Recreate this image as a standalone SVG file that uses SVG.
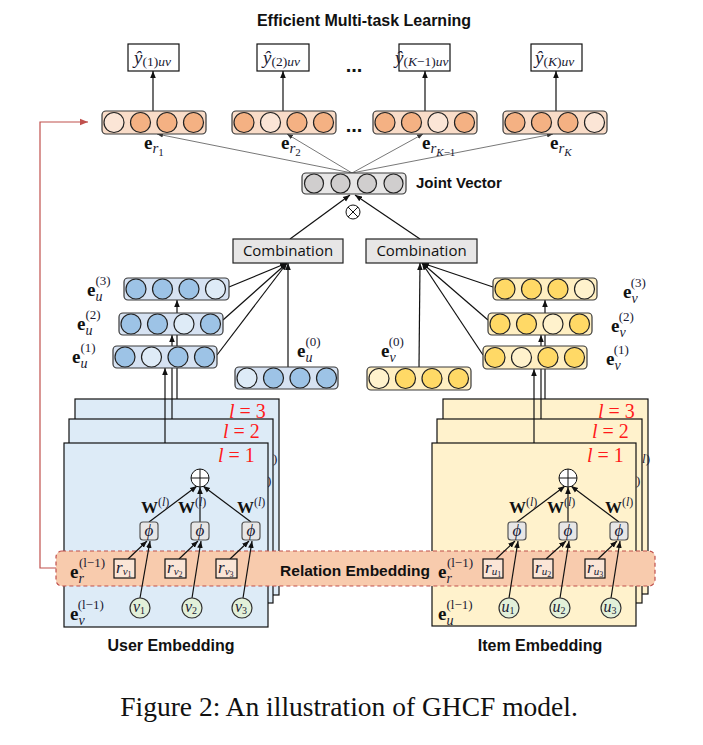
<svg xmlns="http://www.w3.org/2000/svg" width="703" height="745" viewBox="0 0 703 745">
<style>
.bt{font-family:"Liberation Sans",Arial,sans-serif;font-weight:bold;fill:#111}
.cb{font-family:"Open Sans","Liberation Sans",sans-serif;font-size:15px;fill:#111;text-anchor:middle}
.m{font-family:"Liberation Serif","DejaVu Serif",serif;fill:#1a1a33}
.eb{font-weight:bold;font-size:19px;fill:#111}
.it{font-style:italic}
.sb{font-size:13px}
.sub{font-style:italic;font-size:14px}
.red{fill:#ff1a1a;font-size:20px}
.vb{stroke:#3a3a3a;stroke-width:1.2}
.c{stroke:#222;stroke-width:1.2}
.oD{fill:#F4B183}.oL{fill:#FBE5D6}.ob{fill:#F9DCC8}
.bD{fill:#9DC3E6}.bL{fill:#DEEBF7}.bb{fill:#D6E2F2}
.yD{fill:#FFD966}.yL{fill:#FFF2CC}.yb{fill:#FFEFC2}
.gD{fill:#D0CECE}.gb{fill:#E7E6E6}
.a{stroke:#111;stroke-width:1.2;fill:none;marker-end:url(#ah)}
.ag{stroke:#555;stroke-width:0.8;fill:none;marker-end:url(#ahs)}
.lay{stroke:#111;stroke-width:1.2}
.box{fill:#fff;stroke:#111;stroke-width:1.2}
.phi{fill:#E7E6E6;stroke:#555;stroke-width:1.2}
.rb{fill:#FBE5D6;stroke:#111;stroke-width:1.2}
.node{fill:#E2F0D9;stroke:#333;stroke-width:1.2}
.yh{font-size:19px}
.ys{font-size:13.5px}
</style>
<defs>
<marker id="ah" viewBox="0 0 10 10" refX="10" refY="5" markerWidth="7" markerHeight="7" orient="auto" markerUnits="userSpaceOnUse"><path d="M0,1 L10,5 L0,9 z" fill="#111"/></marker>
<marker id="ahs" viewBox="0 0 10 10" refX="10" refY="5" markerWidth="6" markerHeight="6" orient="auto" markerUnits="userSpaceOnUse"><path d="M0,1 L10,5 L0,9 z" fill="#333"/></marker>
<marker id="ahr" viewBox="0 0 10 10" refX="10" refY="5" markerWidth="8" markerHeight="8" orient="auto" markerUnits="userSpaceOnUse"><path d="M0,1 L10,5 L0,9 z" fill="#C0504D"/></marker>
</defs>
<rect width="703" height="745" fill="#fff"/>

<!-- Layer stacks -->
<g id="user-layers">
<rect x="75" y="399" width="204" height="196" fill="#DDEBF7" class="lay"/>
<text x="273" y="463" class="m" font-size="13" fill="#1F3864">)</text>
<text x="229" y="418" class="m red"><tspan class="it">l</tspan> = 3</text>
<rect x="69" y="419" width="204" height="184" fill="#DDEBF7" class="lay"/>
<text x="267" y="485" class="m" font-size="13" fill="#1F3864">)</text>
<text x="223" y="438" class="m red"><tspan class="it">l</tspan> = 2</text>
<rect x="64" y="443" width="204" height="184" fill="#DDEBF7" class="lay"/>
<text x="218" y="462" class="m red"><tspan class="it">l</tspan> = 1</text>
</g>
<g id="item-layers">
<rect x="443" y="399" width="205" height="195" fill="#FFF2CC" class="lay"/>
<text x="642" y="463" class="m" font-size="13" fill="#1F3864"><tspan class="it">l</tspan>)</text>
<text x="598" y="418" class="m red"><tspan class="it">l</tspan> = 3</text>
<rect x="437" y="419" width="205" height="184" fill="#FFF2CC" class="lay"/>
<text x="636" y="485" class="m" font-size="13" fill="#1F3864">)</text>
<text x="592" y="438" class="m red"><tspan class="it">l</tspan> = 2</text>
<rect x="432" y="443" width="204" height="183" fill="#FFF2CC" class="lay"/>
<text x="587" y="462" class="m red"><tspan class="it">l</tspan> = 1</text>
</g>

<g id="relation-embedding">
<rect x="56" y="551" width="599" height="35" rx="6" fill="#F8CBAD" stroke="#C0504D" stroke-width="1.2" stroke-dasharray="4 3"/>
<text x="355" y="576" class="bt" font-size="15.5" text-anchor="middle">Relation Embedding</text>
</g>

<!-- Connectors -->
<g id="connectors">
<path d="M56,568 H40 V122 H88" stroke="#C0504D" stroke-width="1.2" fill="none" marker-end="url(#ahr)"/>
<line x1="153" y1="111" x2="153" y2="71" class="a"/>
<line x1="283" y1="111" x2="283" y2="71" class="a"/>
<line x1="425" y1="111" x2="425" y2="71" class="a"/>
<line x1="556" y1="111" x2="556" y2="71" class="a"/>
<line x1="352" y1="173" x2="157" y2="134" class="ag"/>
<line x1="352" y1="173" x2="287" y2="134" class="ag"/>
<line x1="352" y1="173" x2="423" y2="134" class="ag"/>
<line x1="352" y1="173" x2="553" y2="134" class="ag"/>
<line x1="290" y1="239" x2="350" y2="195" class="a"/>
<line x1="420" y1="239" x2="355" y2="195" class="a"/>
<line x1="229" y1="287" x2="287" y2="263" class="a"/>
<line x1="223" y1="320" x2="287" y2="263" class="a"/>
<line x1="217" y1="355" x2="287" y2="263" class="a"/>
<line x1="288" y1="367" x2="288" y2="263" class="a"/>
<line x1="493" y1="287" x2="422" y2="263" class="a"/>
<line x1="488" y1="320" x2="422" y2="263" class="a"/>
<line x1="483" y1="355" x2="422" y2="263" class="a"/>
<line x1="419" y1="367" x2="420" y2="263" class="a"/>
<line x1="165" y1="443" x2="165" y2="368" class="a"/>
<line x1="172" y1="419" x2="172" y2="335" class="a"/>
<line x1="177" y1="399" x2="177" y2="300" class="a"/>
<line x1="534" y1="443" x2="534" y2="369" class="a"/>
<line x1="541" y1="419" x2="541" y2="335" class="a"/>
<line x1="545" y1="399" x2="545" y2="300" class="a"/>
<line x1="149" y1="522" x2="197" y2="486" class="a"/>
<line x1="200" y1="522" x2="200" y2="487" class="a"/>
<line x1="251" y1="522" x2="203" y2="486" class="a"/>
<line x1="128" y1="559" x2="147" y2="541" class="a"/>
<line x1="179" y1="559" x2="198" y2="541" class="a"/>
<line x1="230" y1="559" x2="249" y2="541" class="a"/>
<line x1="140" y1="598" x2="150" y2="541" class="a"/>
<line x1="192" y1="598" x2="201" y2="541" class="a"/>
<line x1="243" y1="598" x2="252" y2="541" class="a"/>
<line x1="517" y1="522" x2="565" y2="486" class="a"/>
<line x1="568" y1="522" x2="568" y2="487" class="a" stroke="#666"/>
<line x1="619" y1="522" x2="571" y2="486" class="a"/>
<line x1="496" y1="559" x2="515" y2="541" class="a"/>
<line x1="546" y1="559" x2="566" y2="541" class="a"/>
<line x1="598" y1="559" x2="617" y2="541" class="a"/>
<line x1="509" y1="598" x2="518" y2="541" class="a"/>
<line x1="560" y1="598" x2="569" y2="541" class="a"/>
<line x1="611" y1="598" x2="620" y2="541" class="a"/>
</g>

<text x="364" y="26" class="bt" font-size="16" text-anchor="middle">Efficient Multi-task Learning</text>

<!-- Output boxes -->
<g id="y1"><rect x="128" y="44" width="51" height="27" class="box"/>
<text x="134" y="64" class="m yh"><tspan class="it">ŷ</tspan><tspan class="ys" dy="2">(1)</tspan><tspan class="ys it">uv</tspan></text></g>
<g id="y2"><rect x="257" y="44" width="52" height="27" class="box"/>
<text x="263" y="64" class="m yh"><tspan class="it">ŷ</tspan><tspan class="ys" dy="2">(2)</tspan><tspan class="ys it">uv</tspan></text></g>
<g id="yK1"><rect x="399" y="44" width="51" height="27" class="box"/>
<text x="395" y="64" class="m yh"><tspan class="it">ŷ</tspan><tspan class="ys" dy="2">(</tspan><tspan class="ys it">K</tspan><tspan class="ys">−1)</tspan><tspan class="ys it">uv</tspan></text></g>
<g id="yK"><rect x="531" y="44" width="51" height="27" class="box"/>
<text x="535" y="64" class="m yh"><tspan class="it">ŷ</tspan><tspan class="ys" dy="2">(</tspan><tspan class="ys it">K</tspan><tspan class="ys">)</tspan><tspan class="ys it">uv</tspan></text></g>
<text x="354" y="72" class="bt" font-size="20" text-anchor="middle">...</text>
<text x="354" y="132" class="bt" font-size="20" text-anchor="middle">...</text>

<!-- Relation vectors -->
<g id="er1"><rect x="102" y="111" width="104" height="23" rx="4" class="ob vb"/>
<circle cx="114" cy="122.5" r="10" class="oL c"/><circle cx="140.5" cy="122.5" r="10" class="oD c"/><circle cx="167" cy="122.5" r="10" class="oD c"/><circle cx="193.5" cy="122.5" r="10" class="oD c"/>
<text x="144" y="149" class="m"><tspan class="eb">e</tspan><tspan class="it" font-size="15" dy="4">r</tspan><tspan font-size="11" dy="3">1</tspan></text></g>
<g id="er2"><rect x="232" y="111" width="104" height="23" rx="4" class="ob vb"/>
<circle cx="244" cy="122.5" r="10" class="oD c"/><circle cx="270.5" cy="122.5" r="10" class="oL c"/><circle cx="297" cy="122.5" r="10" class="oD c"/><circle cx="323.5" cy="122.5" r="10" class="oD c"/>
<text x="281" y="149" class="m"><tspan class="eb">e</tspan><tspan class="it" font-size="15" dy="4">r</tspan><tspan font-size="11" dy="3">2</tspan></text></g>
<g id="erK1"><rect x="373" y="111" width="104" height="23" rx="4" class="ob vb"/>
<circle cx="385" cy="122.5" r="10" class="oD c"/><circle cx="411.5" cy="122.5" r="10" class="oD c"/><circle cx="438" cy="122.5" r="10" class="oL c"/><circle cx="464.5" cy="122.5" r="10" class="oD c"/>
<text x="422" y="149" class="m"><tspan class="eb">e</tspan><tspan class="it" font-size="15" dy="4">r</tspan><tspan font-size="11" dy="3" class="it">K</tspan><tspan font-size="11">−1</tspan></text></g>
<g id="erK"><rect x="503" y="111" width="104" height="23" rx="4" class="ob vb"/>
<circle cx="515" cy="122.5" r="10" class="oD c"/><circle cx="541.5" cy="122.5" r="10" class="oD c"/><circle cx="568" cy="122.5" r="10" class="oD c"/><circle cx="594.5" cy="122.5" r="10" class="oL c"/>
<text x="550" y="149" class="m"><tspan class="eb">e</tspan><tspan class="it" font-size="15" dy="4">r</tspan><tspan font-size="11" dy="3" class="it">K</tspan></text></g>

<!-- Joint vector -->
<g id="joint"><rect x="302" y="173" width="104" height="21" rx="4" class="gb vb"/>
<circle cx="314" cy="183.5" r="9.5" class="gD c"/><circle cx="340.5" cy="183.5" r="9.5" class="gD c"/><circle cx="367" cy="183.5" r="9.5" class="gD c"/><circle cx="393.5" cy="183.5" r="9.5" class="gD c"/>
<text x="416" y="188" class="bt" font-size="15">Joint Vector</text></g>
<g id="otimes"><circle cx="353" cy="212" r="7" fill="#fff" stroke="#111" stroke-width="1"/>
<path d="M348,207 L358,217 M358,207 L348,217" stroke="#111" stroke-width="1"/></g>

<g id="comb-u"><rect x="233" y="239" width="110" height="24" fill="#E7E6E6" stroke="#222" stroke-width="1.2"/><text x="288" y="256" class="cb">Combination</text></g>
<g id="comb-v"><rect x="366" y="239" width="111" height="24" fill="#E7E6E6" stroke="#222" stroke-width="1.2"/><text x="421.5" y="256" class="cb">Combination</text></g>

<!-- User vectors -->
<g id="eu3"><rect x="124" y="278" width="105" height="22" rx="4" class="bb vb"/>
<circle cx="136" cy="289" r="10" class="bD c"/><circle cx="162.5" cy="289" r="10" class="bD c"/><circle cx="189" cy="289" r="10" class="bD c"/><circle cx="215.5" cy="289" r="10" class="bL c"/>
<text x="87" y="296" class="m"><tspan class="eb">e</tspan><tspan class="sub" dy="5">u</tspan><tspan class="sb" dx="-7" dy="-16">(3)</tspan></text></g>
<g id="eu2"><rect x="119" y="313" width="104" height="22" rx="4" class="bb vb"/>
<circle cx="131" cy="324" r="10" class="bD c"/><circle cx="157.5" cy="324" r="10" class="bD c"/><circle cx="184" cy="324" r="10" class="bL c"/><circle cx="210.5" cy="324" r="10" class="bD c"/>
<text x="77" y="330" class="m"><tspan class="eb">e</tspan><tspan class="sub" dy="5">u</tspan><tspan class="sb" dx="-7" dy="-16">(2)</tspan></text></g>
<g id="eu1"><rect x="113" y="346" width="104" height="22" rx="4" class="bb vb"/>
<circle cx="125" cy="357" r="10" class="bD c"/><circle cx="151.5" cy="357" r="10" class="bL c"/><circle cx="178" cy="357" r="10" class="bD c"/><circle cx="204.5" cy="357" r="10" class="bD c"/>
<text x="72" y="363" class="m"><tspan class="eb">e</tspan><tspan class="sub" dy="5">u</tspan><tspan class="sb" dx="-7" dy="-16">(1)</tspan></text></g>
<g id="eu0"><rect x="235" y="367" width="103" height="22" rx="4" class="bb vb"/>
<circle cx="247" cy="378" r="10" class="bL c"/><circle cx="273.5" cy="378" r="10" class="bD c"/><circle cx="300" cy="378" r="10" class="bD c"/><circle cx="326.5" cy="378" r="10" class="bD c"/>
<text x="297" y="357" class="m"><tspan class="eb">e</tspan><tspan class="sub" dy="5">u</tspan><tspan class="sb" dx="-7" dy="-16">(0)</tspan></text></g>

<!-- Item vectors -->
<g id="ev3"><rect x="493" y="278" width="104" height="22" rx="4" class="yb vb"/>
<circle cx="505" cy="289" r="10" class="yD c"/><circle cx="531.5" cy="289" r="10" class="yD c"/><circle cx="558" cy="289" r="10" class="yD c"/><circle cx="584.5" cy="289" r="10" class="yL c"/>
<text x="623" y="298" class="m"><tspan class="eb">e</tspan><tspan class="sub" dy="5">v</tspan><tspan class="sb" dx="-7" dy="-16">(3)</tspan></text></g>
<g id="ev2"><rect x="488" y="313" width="104" height="22" rx="4" class="yb vb"/>
<circle cx="500" cy="324" r="10" class="yD c"/><circle cx="526.5" cy="324" r="10" class="yD c"/><circle cx="553" cy="324" r="10" class="yL c"/><circle cx="579.5" cy="324" r="10" class="yD c"/>
<text x="611" y="332" class="m"><tspan class="eb">e</tspan><tspan class="sub" dy="5">v</tspan><tspan class="sb" dx="-7" dy="-16">(2)</tspan></text></g>
<g id="ev1"><rect x="483" y="346" width="104" height="23" rx="4" class="yb vb"/>
<circle cx="495" cy="357.5" r="10" class="yD c"/><circle cx="521.5" cy="357.5" r="10" class="yL c"/><circle cx="548" cy="357.5" r="10" class="yD c"/><circle cx="574.5" cy="357.5" r="10" class="yD c"/>
<text x="606" y="365" class="m"><tspan class="eb">e</tspan><tspan class="sub" dy="5">v</tspan><tspan class="sb" dx="-7" dy="-16">(1)</tspan></text></g>
<g id="ev0"><rect x="367" y="367" width="104" height="23" rx="4" class="yb vb"/>
<circle cx="379" cy="378.5" r="10" class="yL c"/><circle cx="405.5" cy="378.5" r="10" class="yD c"/><circle cx="432" cy="378.5" r="10" class="yD c"/><circle cx="458.5" cy="378.5" r="10" class="yD c"/>
<text x="381" y="357" class="m"><tspan class="eb">e</tspan><tspan class="sub" dy="5">v</tspan><tspan class="sb" dx="-7" dy="-16">(0)</tspan></text></g>

<!-- User layer 1 content -->
<g id="u-oplus"><circle cx="200" cy="478" r="9" fill="#fff" stroke="#111" stroke-width="1"/><path d="M191,478 H209 M200,469 V487" stroke="#111" stroke-width="1"/></g>
<g id="u-W"><text x="141" y="513" class="m"><tspan font-weight="bold" font-size="17" fill="#111">W</tspan><tspan font-size="12" dy="-7">(</tspan><tspan font-size="12" class="it">l</tspan><tspan font-size="12">)</tspan></text>
<text x="178" y="513" class="m"><tspan font-weight="bold" font-size="17" fill="#111">W</tspan><tspan font-size="12" dy="-7">(</tspan><tspan font-size="12" class="it">l</tspan><tspan font-size="12">)</tspan></text>
<text x="237" y="513" class="m"><tspan font-weight="bold" font-size="17" fill="#111">W</tspan><tspan font-size="12" dy="-7">(</tspan><tspan font-size="12" class="it">l</tspan><tspan font-size="12">)</tspan></text></g>
<g id="u-phi1"><rect x="140" y="522" width="18" height="18" rx="3" class="phi"/><text x="149" y="536" class="m it" font-size="17" fill="#1F4E79" text-anchor="middle">ϕ</text></g>
<g id="u-phi2"><rect x="191" y="522" width="18" height="18" rx="3" class="phi"/><text x="200" y="536" class="m it" font-size="17" fill="#1F4E79" text-anchor="middle">ϕ</text></g>
<g id="u-phi3"><rect x="242" y="522" width="18" height="18" rx="3" class="phi"/><text x="251" y="536" class="m it" font-size="17" fill="#1F4E79" text-anchor="middle">ϕ</text></g>
<g id="u-r1"><rect x="114" y="559" width="21" height="19" class="rb"/><text x="116" y="573" class="m it" font-size="17">r<tspan font-size="11" dy="2">v</tspan><tspan font-size="8" dy="2" font-style="normal">1</tspan></text></g>
<g id="u-r2"><rect x="165" y="559" width="21" height="19" class="rb"/><text x="167" y="573" class="m it" font-size="17">r<tspan font-size="11" dy="2">v</tspan><tspan font-size="8" dy="2" font-style="normal">2</tspan></text></g>
<g id="u-r3"><rect x="216" y="559" width="21" height="19" class="rb"/><text x="218" y="573" class="m it" font-size="17">r<tspan font-size="11" dy="2">v</tspan><tspan font-size="8" dy="2" font-style="normal">3</tspan></text></g>
<g id="u-v1"><circle cx="140" cy="608" r="10" class="node"/><text x="139" y="612" class="m it" font-size="16" text-anchor="middle">v<tspan font-size="10" dy="2" font-style="normal">1</tspan></text></g>
<g id="u-v2"><circle cx="192" cy="608" r="10" class="node"/><text x="191" y="612" class="m it" font-size="16" text-anchor="middle">v<tspan font-size="10" dy="2" font-style="normal">2</tspan></text></g>
<g id="u-v3"><circle cx="242" cy="608" r="10" class="node"/><text x="241" y="612" class="m it" font-size="16" text-anchor="middle">v<tspan font-size="10" dy="2" font-style="normal">3</tspan></text></g>
<g id="u-labels"><text x="70" y="578" class="m"><tspan class="eb">e</tspan><tspan class="sub" dy="5">r</tspan><tspan class="sb" dx="-5" dy="-16">(l−1)</tspan></text>
<text x="70" y="620" class="m"><tspan class="eb">e</tspan><tspan class="sub" dy="5">v</tspan><tspan class="sb" dx="-7" dy="-16">(l−1)</tspan></text></g>

<!-- Item layer 1 content -->
<g id="i-oplus"><circle cx="568" cy="478" r="9" fill="#fff" stroke="#111" stroke-width="1"/><path d="M559,478 H577 M568,469 V487" stroke="#111" stroke-width="1"/></g>
<g id="i-W"><text x="509" y="513" class="m"><tspan font-weight="bold" font-size="17" fill="#111">W</tspan><tspan font-size="12" dy="-7">(</tspan><tspan font-size="12" class="it">l</tspan><tspan font-size="12">)</tspan></text>
<text x="547" y="513" class="m"><tspan font-weight="bold" font-size="17" fill="#111">W</tspan><tspan font-size="12" dy="-7">(</tspan><tspan font-size="12" class="it">l</tspan><tspan font-size="12">)</tspan></text>
<text x="605" y="513" class="m"><tspan font-weight="bold" font-size="17" fill="#111">W</tspan><tspan font-size="12" dy="-7">(</tspan><tspan font-size="12" class="it">l</tspan><tspan font-size="12">)</tspan></text></g>
<g id="i-phi1"><rect x="508" y="522" width="18" height="18" rx="3" class="phi"/><text x="517" y="536" class="m it" font-size="17" fill="#1F4E79" text-anchor="middle">ϕ</text></g>
<g id="i-phi2"><rect x="559" y="522" width="18" height="18" rx="3" class="phi"/><text x="568" y="536" class="m it" font-size="17" fill="#1F4E79" text-anchor="middle">ϕ</text></g>
<g id="i-phi3"><rect x="610" y="522" width="18" height="18" rx="3" class="phi"/><text x="619" y="536" class="m it" font-size="17" fill="#1F4E79" text-anchor="middle">ϕ</text></g>
<g id="i-r1"><rect x="483" y="559" width="20" height="19" class="rb"/><text x="485" y="573" class="m it" font-size="17">r<tspan font-size="11" dy="2">u</tspan><tspan font-size="8" dy="2" font-style="normal">1</tspan></text></g>
<g id="i-r2"><rect x="533" y="559" width="20" height="19" class="rb"/><text x="535" y="573" class="m it" font-size="17">r<tspan font-size="11" dy="2">u</tspan><tspan font-size="8" dy="2" font-style="normal">2</tspan></text></g>
<g id="i-r3"><rect x="585" y="559" width="20" height="19" class="rb"/><text x="587" y="573" class="m it" font-size="17">r<tspan font-size="11" dy="2">u</tspan><tspan font-size="8" dy="2" font-style="normal">3</tspan></text></g>
<g id="i-u1"><circle cx="509" cy="608" r="10" class="node"/><text x="508" y="612" class="m it" font-size="16" text-anchor="middle">u<tspan font-size="10" dy="2" font-style="normal">1</tspan></text></g>
<g id="i-u2"><circle cx="560" cy="608" r="10" class="node"/><text x="559" y="612" class="m it" font-size="16" text-anchor="middle">u<tspan font-size="10" dy="2" font-style="normal">2</tspan></text></g>
<g id="i-u3"><circle cx="611" cy="608" r="10" class="node"/><text x="610" y="612" class="m it" font-size="16" text-anchor="middle">u<tspan font-size="10" dy="2" font-style="normal">3</tspan></text></g>
<g id="i-labels"><text x="438" y="578" class="m"><tspan class="eb">e</tspan><tspan class="sub" dy="5">r</tspan><tspan class="sb" dx="-5" dy="-16">(l−1)</tspan></text>
<text x="438" y="620" class="m"><tspan class="eb">e</tspan><tspan class="sub" dy="5">u</tspan><tspan class="sb" dx="-7" dy="-16">(l−1)</tspan></text></g>

<text x="171" y="651" class="bt" font-size="16" text-anchor="middle">User Embedding</text>
<text x="540" y="651" class="bt" font-size="16" text-anchor="middle">Item Embedding</text>
<text x="349" y="716" font-family="Liberation Serif, serif" font-size="27.5" fill="#111" text-anchor="middle">Figure 2: An illustration of GHCF model.</text>
</svg>
